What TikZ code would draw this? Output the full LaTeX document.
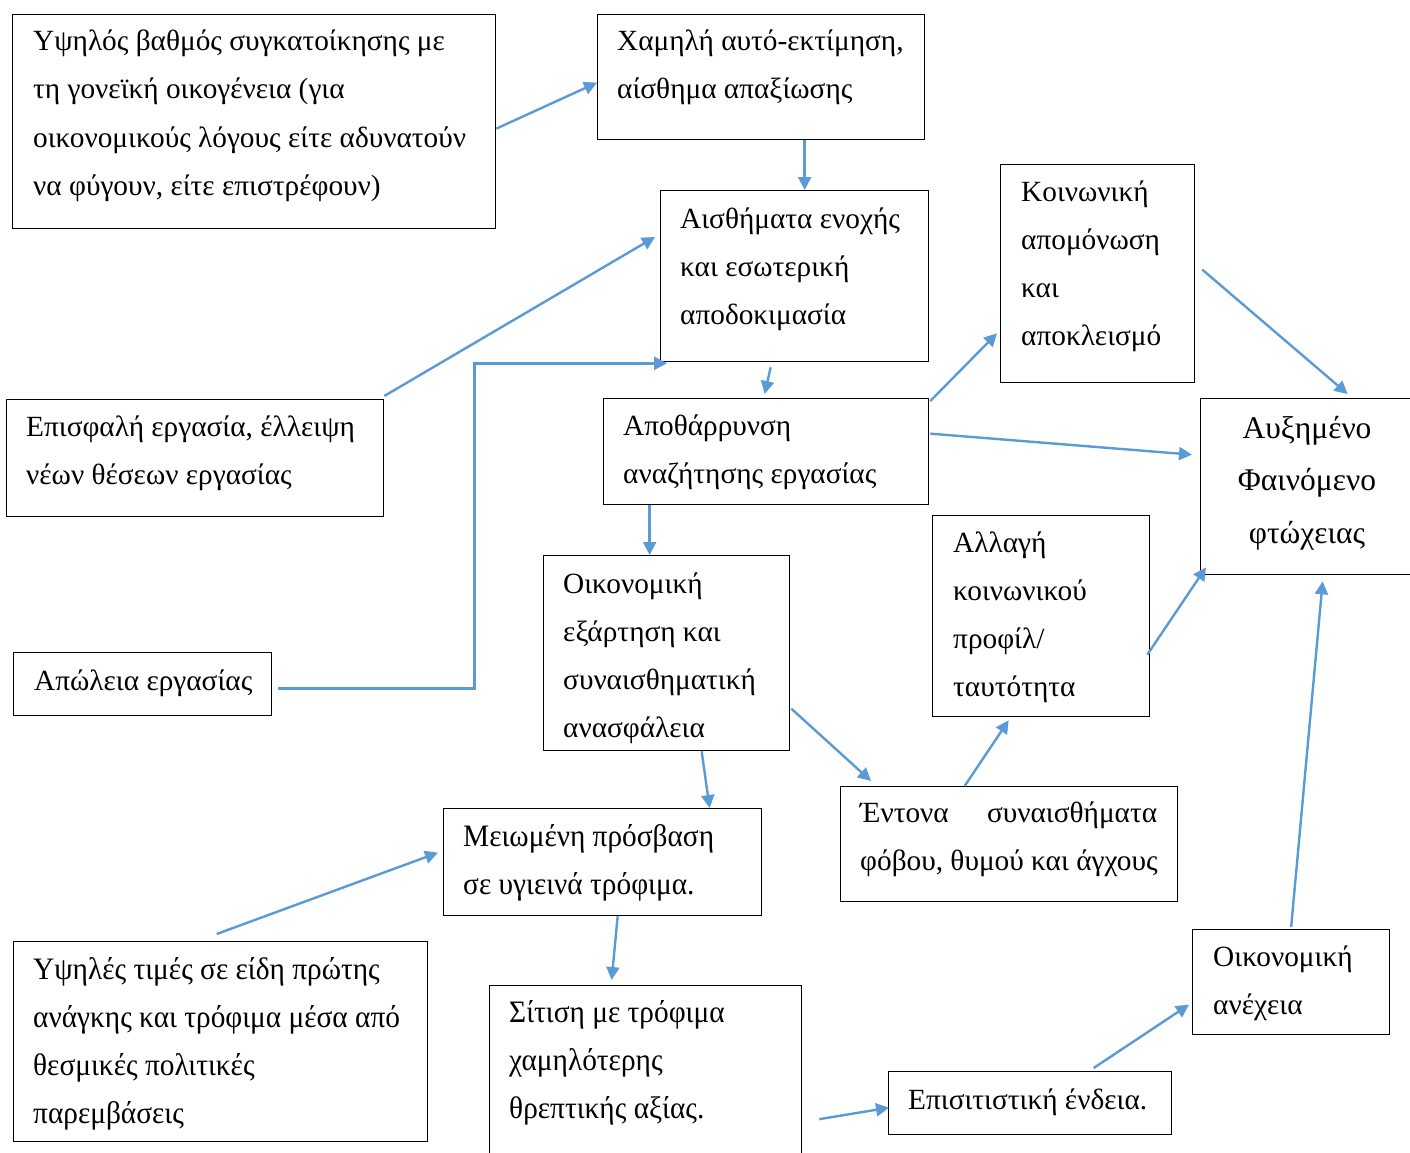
\documentclass[tikz,border=0pt]{standalone}
\usepackage{fontspec}
\setmainfont{Liberation Serif}
\usetikzlibrary{calc,arrows.meta}
\definecolor{arrblue}{HTML}{5B9BD5}
\tikzset{
  box/.style={draw=black, line width=1.3pt, fill=none, inner sep=0pt, anchor=north west},
  txt/.style={inner sep=0pt, font=\fontsize{29.3}{48}\selectfont},
  bigtxt/.style={inner sep=0pt, font=\fontsize{31.5}{52}\selectfont},
  arr/.style={draw=arrblue, line width=2.4pt, -{Triangle[length=13pt,width=13pt]}},
}
\newcommand\boxlines[5]{% name, x, first baseline, anchor, list
  \foreach \ln [count=\i] in {#5} {\node[txt, anchor=#4] (#1-\i) at (#2, #3+48*\i-48) {\ln};}}
\newcommand\narrow[1]{\scalebox{0.94}[1]{\fontsize{31.2}{48}\selectfont #1}}
\begin{document}
\begin{tikzpicture}[x=1pt,y=-1pt]
\useasboundingbox (0,0) rectangle (1410,1153);
\fill[white] (0,0) rectangle (1410,1153);
\clip (0,0) rectangle (1410,1153);
% boxes
\node[box, minimum width=483pt, minimum height=214pt] (A) at (12,14) {};
\node[box, minimum width=327pt, minimum height=125pt] (B) at (597,14) {};
\node[box, minimum width=268pt, minimum height=171pt] (C) at (660,190) {};
\node[box, minimum width=194pt, minimum height=218pt] (D) at (1000,164) {};
\node[box, minimum width=377pt, minimum height=117pt] (E) at (6,399) {};
\node[box, minimum width=325pt, minimum height=106pt] (F) at (603,398) {};
\node[box, minimum width=214pt, minimum height=176pt] (G) at (1200,398) {};
\node[box, minimum width=217pt, minimum height=201pt] (H) at (932,515) {};
\node[box, minimum width=246pt, minimum height=195pt] (I) at (543,555) {};
\node[box, minimum width=258pt, minimum height=63pt] (J) at (13,652) {};
\node[box, minimum width=318pt, minimum height=107pt] (K) at (443,808) {};
\node[box, minimum width=337pt, minimum height=115pt] (L) at (840,786) {};
\node[box, minimum width=414pt, minimum height=200pt] (M) at (13,941) {};
\node[box, minimum width=197pt, minimum height=105pt] (N) at (1192,929) {};
\node[box, minimum width=312pt, minimum height=180pt] (O) at (489,985) {};
\node[box, minimum width=283pt, minimum height=63pt] (P) at (888,1071) {};
% texts
\boxlines{tA}{33}{51}{base west}{{Υψηλός βαθμός συγκατοίκησης με},{τη γονεϊκή οικογένεια (για},{οικονομικούς λόγους είτε αδυνατούν},{να φύγουν, είτε επιστρέφουν)}}
\boxlines{tB}{617}{51}{base west}{{Χαμηλή αυτό-εκτίμηση,},{αίσθημα απαξίωσης}}
\boxlines{tC}{680}{228}{base west}{{Αισθήματα ενοχής},{και εσωτερική},{αποδοκιμασία}}
\boxlines{tD}{1021}{201}{base west}{{Κοινωνική},{απομόνωση},{και},{αποκλεισμό}}
\boxlines{tE}{26}{436}{base west}{{Επισφαλή εργασία, έλλειψη},{νέων θέσεων εργασίας}}
\boxlines{tF}{623}{435}{base west}{{Αποθάρρυνση},{αναζήτησης εργασίας}}
\node[bigtxt, anchor=base] (tG-1) at (1307,438) {Αυξημένο};
\node[bigtxt, anchor=base] (tG-2) at (1307,490) {Φαινόμενο};
\node[bigtxt, anchor=base] (tG-3) at (1307,543) {φτώχειας};
\boxlines{tH}{953}{552}{base west}{{Αλλαγή},{κοινωνικού},{προφίλ/},{ταυτότητα}}
\boxlines{tI}{563}{593}{base west}{{Οικονομική},{εξάρτηση και},{συναισθηματική},{ανασφάλεια}}
\boxlines{tJ}{34}{690}{base west}{{Απώλεια εργασίας}}
\boxlines{tK}{463}{846}{base west}{{\narrow{Μειωμένη πρόσβαση}},{\narrow{σε υγιεινά τρόφιμα.}}}
\boxlines{tL}{860}{822}{base west}{{\hbox to 297pt{Έντονα\hfil συναισθήματα}},{φόβου, θυμού και άγχους}}
\boxlines{tM}{33}{979}{base west}{{\narrow{Υψηλές τιμές σε είδη πρώτης}},{\narrow{ανάγκης και τρόφιμα μέσα από}},{\narrow{θεσμικές πολιτικές}},{\narrow{παρεμβάσεις}}}
\boxlines{tN}{1213}{966}{base west}{{Οικονομική},{ανέχεια}}
\boxlines{tO}{509}{1022}{base west}{{\narrow{Σίτιση με τρόφιμα}},{\narrow{χαμηλότερης}},{\narrow{θρεπτικής αξίας.}}}
\boxlines{tP}{908}{1109}{base west}{{Επισιτιστική ένδεια.}}
% arrows
\draw[arr] ($(A.east)+(0,7)$) -- ($(B.west)+(0,5.5)$);
\draw[arr] ($(B.south)+(43.5,0)$) -- ($(C.north)+(10,0)$);
\draw[arr] ($(E.north east)+(0,-3)$) -- ($(C.north west)+(-5,47)$);
\draw[arr] ($(J.east)+(6,4.5)$) -- ++(196,0) |- ($(C.south west)+(7,1)$);
\draw[arr] ($(C.south)+(-24,5)$) -- ($(F.north)+(-1.5,-4)$);
\draw[arr] ($(F.north east)+(1,3)$) -- ($(D.south west)+(-3,-50)$);
\draw[arr] ($(D.east)+(7,-4)$) -- ($(G.north)+(40,-4)$);
\draw[arr] ($(F.east)+(1,-18)$) -- ($(G.west)+(-8,-32)$);
\draw[arr] ($(F.south)+(-116.5,0)$) -- ($(I.north)+(-17,0)$);
\draw[arr] ($(H.east)+(-3,38.5)$) -- ($(G.south west)+(6,-8)$);
\draw[arr] ($(N.north)+(0,-2)$) -- ($(G.south)+(15,6)$);
\draw[arr] ($(I.east)+(1,55.5)$) -- ($(L.north west)+(31,-5)$);
\draw[arr] ($(L.north)+(-44.5,0)$) -- ($(H.south)+(-32.5,3)$);
\draw[arr] ($(I.south)+(35,0)$) -- ($(K.north)+(107,0)$);
\draw[arr] ($(M.north)+(-4,-7)$) -- ($(K.west)+(-5,-9.5)$);
\draw[arr] ($(K.south)+(15,0)$) -- ($(O.north)+(-34,-5)$);
\draw[arr] ($(O.east)+(17,43.5)$) -- ($(P.west)+(1,4.5)$);
\draw[arr] ($(P.north)+(63.5,-3)$) -- ($(N.west)+(-3,22.5)$);
\end{tikzpicture}
\end{document}
